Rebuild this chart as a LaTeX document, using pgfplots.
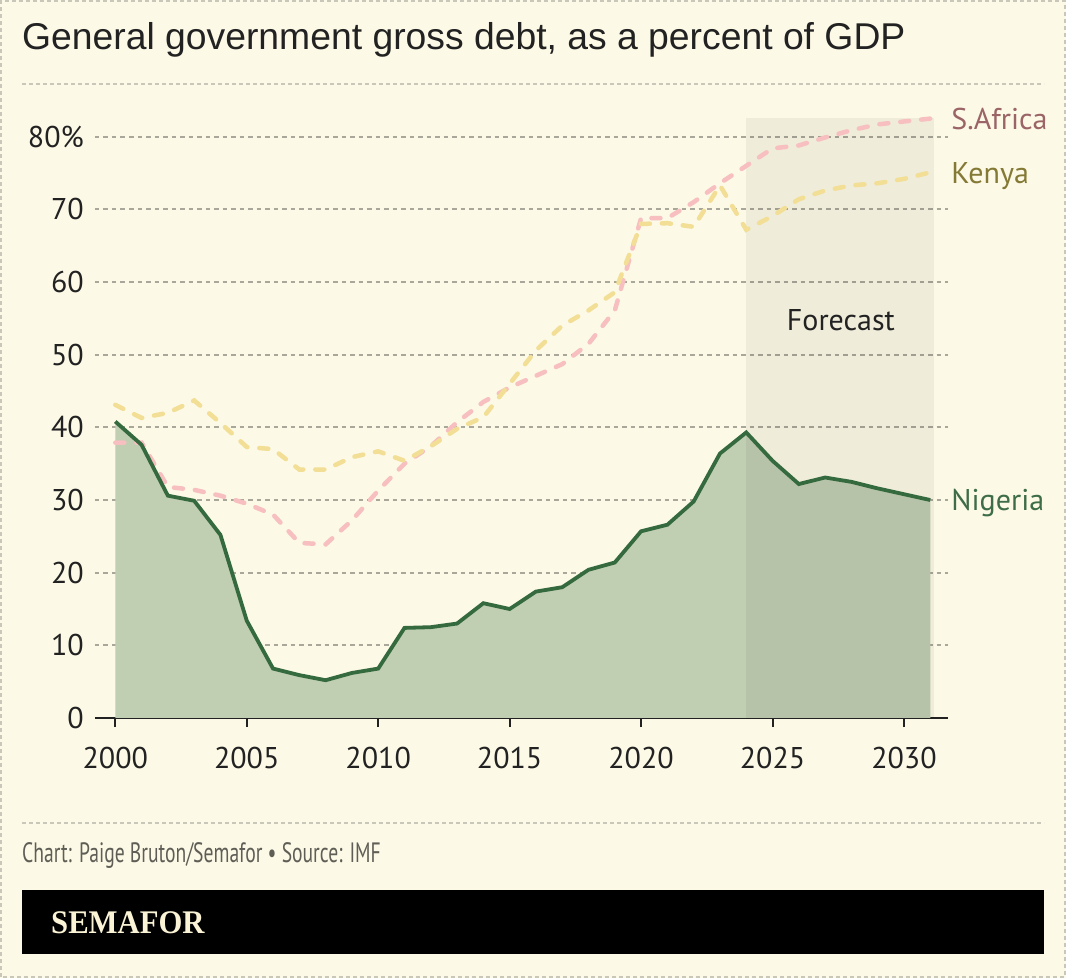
\documentclass[border=0pt]{standalone}
\usepackage{fontspec}
\setmainfont{PT Sans}
\newfontfamily\titlefont{Liberation Sans}
\newfontfamily\logofont{Liberation Serif}
\usepackage{graphicx}
\usepackage{pgfplots}
\usepackage{pgfplotstable}
\pgfplotsset{compat=1.18}

\definecolor{cream}{HTML}{FCF9E6}
\definecolor{framec}{HTML}{C9C7BA}
\definecolor{gridc}{HTML}{A9A799}
\definecolor{ngfill}{HTML}{C0CEB2}
\definecolor{ngline}{HTML}{356A3F}
\definecolor{zapink}{HTML}{F7BFC0}
\definecolor{keyellow}{HTML}{F2DE95}
\definecolor{zalab}{HTML}{9B6467}
\definecolor{kelab}{HTML}{847935}
\definecolor{nglab}{HTML}{3E6D47}
\definecolor{ink}{HTML}{222222}
\definecolor{footc}{HTML}{5F5E56}
\definecolor{logoc}{HTML}{FBF3D6}

% General government gross debt, % of GDP (IMF)
\pgfplotstableread{
year nga
2000 40.8
2001 37.6
2002 30.6
2003 29.9
2004 25.2
2005 13.4
2006 6.8
2007 5.9
2008 5.2
2009 6.2
2010 6.8
2011 12.4
2012 12.5
2013 13.0
2014 15.8
2015 15.0
2016 17.4
2017 18.0
2018 20.4
2019 21.4
2020 25.7
2021 26.6
2022 29.8
2023 36.4
2024 39.3
2025 35.4
2026 32.2
2027 33.1
2028 32.5
2029 31.6
2030 30.8
2031 30.0
}\nigeria

\pgfplotstableread{
year ken
2000 43.1
2001 41.3
2002 42.0
2003 43.7
2004 40.6
2005 37.3
2006 37.0
2007 34.2
2008 34.2
2009 35.9
2010 36.7
2011 35.4
2012 37.4
2013 39.8
2014 41.4
2015 46.0
2016 50.6
2017 54.0
2018 56.1
2019 58.6
2020 68.0
2021 68.1
2022 67.6
2023 73.3
2024 67.2
2025 69.1
2026 71.4
2027 72.6
2028 73.3
2029 73.6
2030 74.2
2031 75.1
}\kenya

\pgfplotstableread{
year zaf
2000 37.9
2001 37.9
2002 31.8
2003 31.4
2004 30.6
2005 29.5
2006 28.0
2007 24.1
2008 23.9
2009 27.2
2010 31.3
2011 35.0
2012 37.4
2013 40.7
2014 43.5
2015 45.5
2016 47.1
2017 48.7
2018 51.5
2019 56.1
2020 68.8
2021 68.8
2022 71.0
2023 73.6
2024 76.0
2025 78.4
2026 78.8
2027 79.9
2028 80.9
2029 81.7
2030 82.1
2031 82.5
}\safrica

\begin{document}
\begin{tikzpicture}[x=1pt,y=1pt]
\useasboundingbox (0,0) rectangle (1066,978);
\fill[cream] (0,0) rectangle (1066,978);
\draw[framec, line width=2pt, dash pattern=on 4pt off 3pt] (1,1) rectangle (1065,977);

% title and rules
\node[anchor=base west, inner sep=0pt, text=ink] at (22,928)
  {\titlefont\fontsize{37.3}{40}\selectfont General government gross debt, as a percent of GDP};
\draw[framec, line width=1.5pt, dash pattern=on 4pt off 3pt] (22,894) -- (1044,894);
\draw[framec, line width=1.5pt, dash pattern=on 4pt off 3pt] (22,155) -- (1044,155);

% source line and brand bar
\node[anchor=base west, inner sep=0pt, text=footc] at (22,116)
  {\scalebox{0.7}[1]{\fontsize{28}{30}\selectfont Chart: Paige Bruton/Semafor \textbullet{} Source: IMF}};
\fill[black] (22,24) rectangle (1044,88);
\node[anchor=base west, inner sep=0pt, text=logoc] at (51,45)
  {\scalebox{0.93}[1]{\logofont\bfseries\fontsize{33}{33}\selectfont SEMAFOR}};

\begin{axis}[
  at={(95pt,260pt)}, anchor=south west,
  scale only axis, width=853pt, height=600pt,
  xmin=1999.228, xmax=2031.674,
  ymin=0, ymax=82.58,
  clip=false,
  axis x line*=bottom, axis y line*=left,
  x axis line style={line width=2pt, color=ink, -},
  y axis line style={draw=none},
  xtick={2000,2005,...,2030},
  xticklabels={2000,2005,2010,2015,2020,2025,2030},
  ytick={0,10,...,80},
  yticklabels={0,10,20,30,40,50,60,70,80\%},
  tick align=outside,
  major tick length=9pt,
  xtick style={line width=2pt, color=ink},
  ytick style={draw=none},
  ymajorgrids,
  major grid style={gridc, line width=2pt, dash pattern=on 4.5pt off 4pt},
  tick label style={font=\fontsize{30}{36}\selectfont, text=ink, inner sep=0pt},
  xticklabel style={anchor=north, yshift=-20pt},
  yticklabel style={anchor=east, xshift=-2pt},
]
  % Nigeria area
  \addplot[draw=none, fill=ngfill] table[x=year, y=nga] {\nigeria} \closedcycle;
  % forecast period
  \addplot[draw=none, fill=black, fill opacity=0.05] coordinates {(2024,82.6) (2031.14,82.6)} \closedcycle;
  \node[text=ink, font=\fontsize{30}{36}\selectfont] at (axis cs:2027.6,54.8) {Forecast};
  % dashed series
  \addplot[zapink, line width=4.5pt, line cap=round, dash pattern=on 9pt off 12pt] table[x=year, y=zaf] {\safrica};
  \addplot[keyellow, line width=4.5pt, line cap=round, dash pattern=on 9pt off 12pt] table[x=year, y=ken] {\kenya};
  % Nigeria line
  \addplot[ngline, line width=3.8pt] table[x=year, y=nga] {\nigeria};
  % series labels
  \node[anchor=base west, inner sep=0pt, xshift=21pt, text=zalab, font=\fontsize{30}{36}\selectfont] at (axis cs:2031,81.0) {S.Africa};
  \node[anchor=base west, inner sep=0pt, xshift=21pt, text=kelab, font=\fontsize{30}{36}\selectfont] at (axis cs:2031,73.6) {Kenya};
  \node[anchor=base west, inner sep=0pt, xshift=21pt, text=nglab, font=\fontsize{30}{36}\selectfont] at (axis cs:2031,28.5) {Nigeria};
\end{axis}
\end{tikzpicture}
\end{document}
